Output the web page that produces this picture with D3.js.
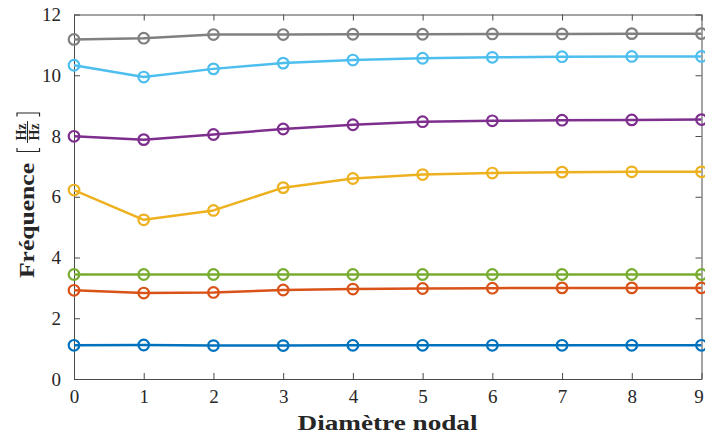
<!DOCTYPE html>
<html><head><meta charset="utf-8">
<script src="https://cdn.jsdelivr.net/npm/d3@7"></script>
<style>html,body{margin:0;padding:0;background:#fff;}svg{display:block;}</style>
</head><body>
<svg id="chart" width="705" height="436"></svg>
<script>
const diametres = [0,1,2,3,4,5,6,7,8,9];
const xTicks = [0,1,2,3,4,5,6,7,8,9];
const yTicks = [0,2,4,6,8,10,12];
const mode1 = [1.11,1.12,1.10,1.10,1.11,1.11,1.11,1.11,1.11,1.11];
const mode2 = [2.92,2.83,2.85,2.93,2.96,2.98,2.99,3.00,3.00,3.00];
const mode3 = [3.44,3.44,3.44,3.44,3.44,3.44,3.44,3.44,3.44,3.44];
const mode4 = [6.22,5.24,5.55,6.30,6.60,6.73,6.78,6.81,6.82,6.82];
const mode5 = [7.99,7.88,8.05,8.23,8.37,8.47,8.50,8.52,8.53,8.54];
const mode6 = [10.33,9.94,10.21,10.40,10.50,10.56,10.59,10.61,10.62,10.62];
const mode7 = [11.18,11.22,11.34,11.34,11.35,11.35,11.36,11.36,11.37,11.37];
const seriesNames = ["mode1","mode2","mode3","mode4","mode5","mode6","mode7"];
const seriesValues = [mode1,mode2,mode3,mode4,mode5,mode6,mode7];
const colors = ["#0072BD","#D95319","#77AC30","#EDB120","#7E2F8E","#4DBEEE","#808080"];
const xLabel = "Diamètre nodal";
const yLabel = "Fréquence";

const svg = d3.select("#chart");
const L = 74, R = 701.5, T = 14.5, B = 379;
const x = d3.scaleLinear().domain([0,9]).range([L,R]);
const y = d3.scaleLinear().domain([0,12]).range([B,T]);
const axisColor = "#4a4a4a";
const textColor = "#262626";
const serif = "'Liberation Serif','Times New Roman',serif";

// axes with inward ticks
const gB = svg.append("g").attr("transform",`translate(0,${B})`)
  .call(d3.axisBottom(x).tickValues(xTicks).tickSizeInner(-6).tickSizeOuter(0).tickPadding(12).tickFormat(d3.format("d")));
const gT = svg.append("g").attr("transform",`translate(0,${T})`)
  .call(d3.axisTop(x).tickValues(xTicks).tickSizeInner(-6).tickSizeOuter(0).tickFormat(""));
const gL = svg.append("g").attr("transform",`translate(${L},0)`)
  .call(d3.axisLeft(y).tickValues(yTicks).tickSizeInner(-6).tickSizeOuter(0).tickPadding(13).tickFormat(d3.format("d")));
const gR = svg.append("g").attr("transform",`translate(${R},0)`)
  .call(d3.axisRight(y).tickValues(yTicks).tickSizeInner(-6).tickSizeOuter(0).tickFormat(""));
[gB,gT,gL,gR].forEach(g=>{
  g.select(".domain").attr("stroke",axisColor).attr("stroke-width",1);
  g.selectAll(".tick line").attr("stroke",axisColor).attr("stroke-width",1);
  g.selectAll(".tick text").attr("fill",textColor).attr("font-family",serif).attr("font-size",19);
});
gB.selectAll(".tick text").attr("dy","0.71em").attr("y",11)
  .attr("x",d=>d===xTicks[xTicks.length-1] ? -3 : 0);

// lines and markers
const line = d3.line().x((d,i)=>x(diametres[i])).y(d=>y(d));
seriesValues.forEach((vals,k)=>{
  const g = svg.append("g").attr("class",seriesNames[k]);
  g.append("path").datum(vals).attr("d",line).attr("fill","none")
    .attr("stroke",colors[k]).attr("stroke-width",2.5).attr("stroke-linejoin","round");
  g.selectAll("circle").data(vals).join("circle")
    .attr("cx",(d,i)=>x(diametres[i])).attr("cy",d=>y(d)).attr("r",5.3)
    .attr("fill","none").attr("stroke",colors[k]).attr("stroke-width",2.2);
});

// x label
svg.append("text").attr("x",297.5).attr("y",430).attr("font-family",serif)
  .attr("font-weight","bold").attr("font-size",21).attr("fill",textColor)
  .attr("textLength",180).attr("lengthAdjust","spacingAndGlyphs").text(xLabel);

// y label (rotated)
const gy = svg.append("g").attr("transform","translate(33.5,278) rotate(-90)");
gy.append("text").attr("x",0).attr("y",0).attr("font-family",serif)
  .attr("font-weight","bold").attr("font-size",21).attr("fill",textColor)
  .attr("textLength",115).attr("lengthAdjust","spacingAndGlyphs").text(yLabel);
// brackets
gy.append("path").attr("d","M130,-16.5 L126.5,-16.5 L126.5,6 L130,6")
  .attr("fill","none").attr("stroke",textColor).attr("stroke-width",1.2);
gy.append("path").attr("d","M161.5,-16.5 L165,-16.5 L165,6 L161.5,6")
  .attr("fill","none").attr("stroke",textColor).attr("stroke-width",1.2);
// fraction
gy.append("line").attr("x1",135).attr("x2",157).attr("y1",-6).attr("y2",-6)
  .attr("stroke",textColor).attr("stroke-width",1);
gy.append("text").attr("x",146).attr("y",-8).attr("text-anchor","middle")
  .attr("font-family",serif).attr("font-weight","bold").attr("font-size",14).attr("fill",textColor).text("Hz");
gy.append("text").attr("x",146).attr("y",5.5).attr("text-anchor","middle")
  .attr("font-family",serif).attr("font-weight","bold").attr("font-size",14).attr("fill",textColor).text("Hz");
</script>
</body></html>
